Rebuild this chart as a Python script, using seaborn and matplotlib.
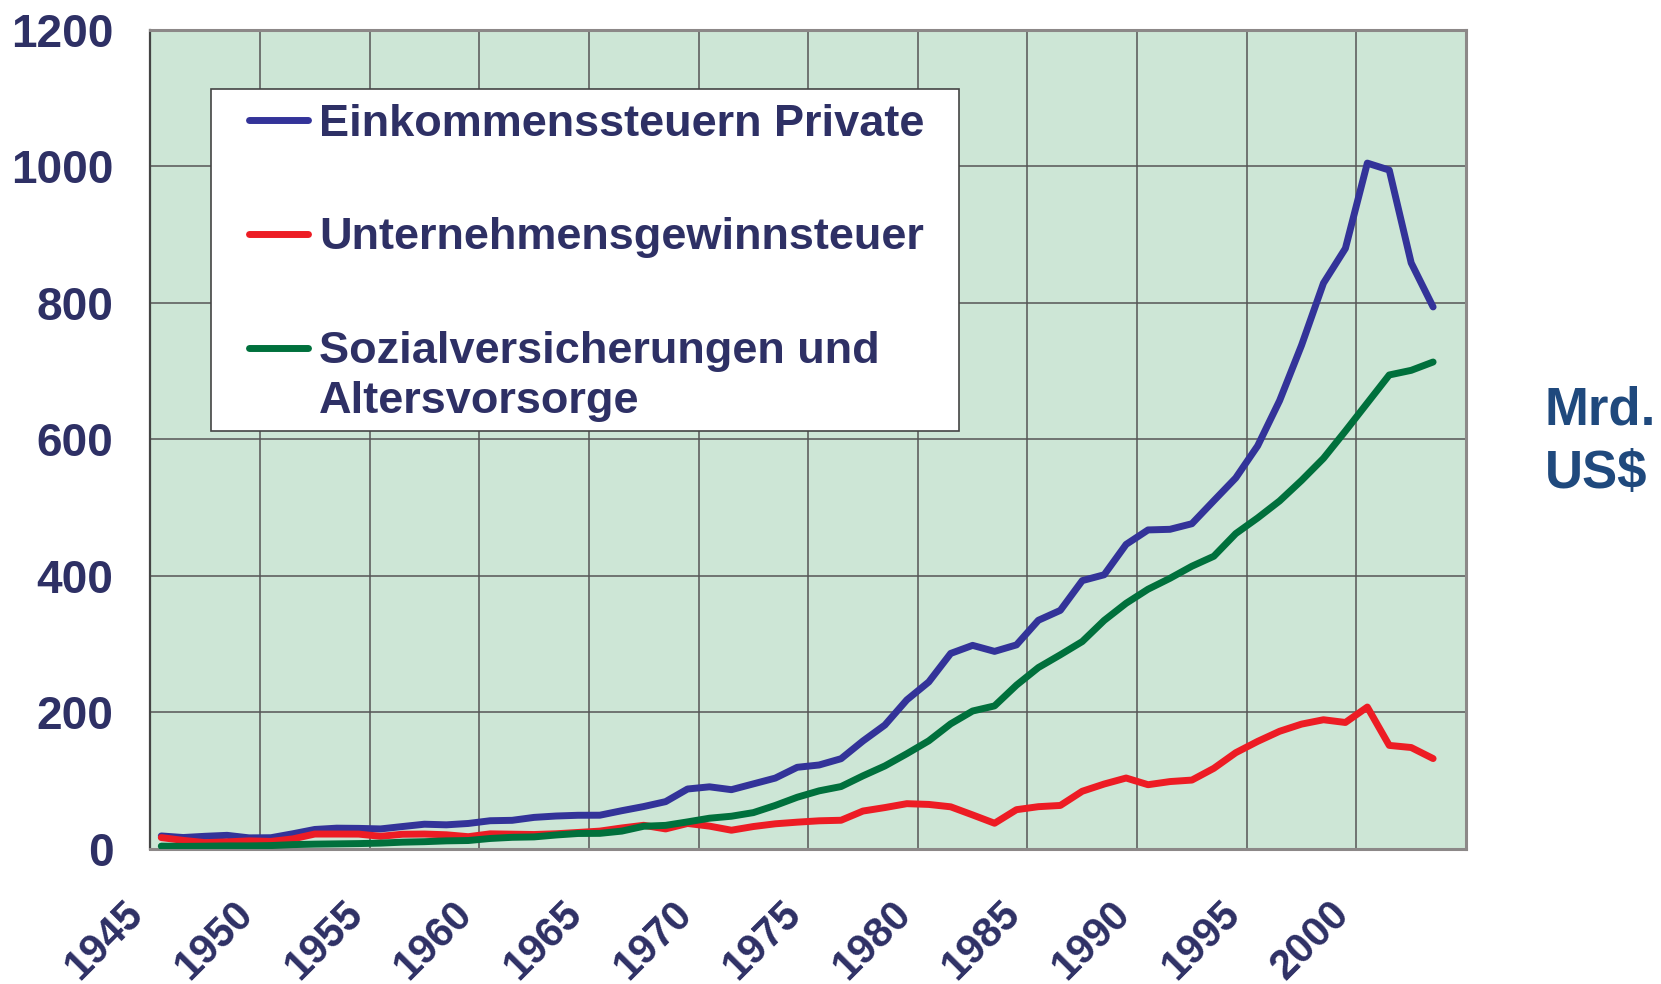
import matplotlib
matplotlib.use("Agg")
import matplotlib.pyplot as plt
import matplotlib.transforms as mtransforms
from matplotlib.legend_handler import HandlerLine2D
from matplotlib.patches import Rectangle
import numpy as np
import pandas as pd
import seaborn as sns

# US federal receipts, Mrd. US$
YEARS = list(range(1945, 2004))

EINKOMMEN = [18.4, 16.1, 17.9, 19.3, 15.6, 15.8, 21.6, 27.9, 29.8, 29.5,
             28.7, 32.2, 35.6, 34.7, 36.7, 40.7, 41.3, 45.6, 47.6, 48.7,
             48.8, 55.4, 61.5, 68.7, 87.2, 90.4, 86.2, 94.7, 103.2, 119.0,
             122.4, 131.6, 157.6, 181.0, 217.8, 244.1, 285.9, 297.7, 288.9, 298.4,
             334.5, 349.0, 392.6, 401.2, 445.7, 466.9, 467.8, 476.0, 509.7, 543.1,
             590.2, 656.4, 737.5, 828.6, 879.5, 1004.5, 994.3, 858.3, 793.7]

UNTERNEHMEN = [16.0, 11.9, 8.6, 9.7, 11.2, 10.4, 14.1, 21.2, 21.2, 21.1,
               17.9, 20.9, 21.2, 20.1, 17.3, 21.5, 21.0, 20.5, 21.6, 23.5,
               25.5, 30.1, 34.0, 28.7, 36.7, 32.8, 26.8, 32.2, 36.2, 38.6,
               40.6, 41.4, 54.9, 60.0, 65.7, 64.6, 61.1, 49.2, 37.0, 56.9,
               61.3, 63.1, 83.9, 94.5, 103.3, 93.5, 98.1, 100.3, 117.5, 140.4,
               157.0, 171.8, 182.3, 188.7, 184.7, 207.3, 151.1, 148.0, 131.8]

SOZIAL = [3.5, 3.1, 3.4, 3.8, 3.8, 4.3, 5.7, 6.4, 6.8, 7.2,
          7.9, 9.3, 10.0, 11.2, 11.7, 14.7, 16.4, 17.0, 19.8, 22.0,
          22.2, 25.5, 32.6, 33.9, 39.0, 44.4, 47.3, 52.6, 63.1, 75.1,
          84.5, 90.8, 106.5, 121.0, 138.9, 157.8, 182.7, 201.5, 209.0, 239.4,
          265.2, 283.9, 303.3, 334.3, 359.4, 380.0, 396.0, 413.7, 428.3, 461.5,
          484.5, 509.4, 539.4, 571.8, 611.8, 652.9, 694.0, 700.8, 713.0]

SERIES_NAMES = [
    "Einkommenssteuern Private",
    "Unternehmensgewinnsteuer",
    "Sozialversicherungen und\nAltersvorsorge",
]
SERIES_COLORS = ["#333399", "#ED1C24", "#00703C"]

X_TICKS = list(range(1945, 2006, 5))
X_TICK_LABELS = [str(y) for y in range(1945, 2001, 5)] + [""]
Y_TICKS = list(range(0, 1201, 200))

TEXT_COLOR = "#2E3065"
UNIT_COLOR = "#1F497D"
BG_COLOR = "#CDE6D6"
GRID_COLOR = "#555555"
LINE_WIDTH = 5.0


class FirstLineHandler(HandlerLine2D):
    """Line handle lifted to the first row of a two-line label."""

    def __init__(self, dy, **kwargs):
        super().__init__(**kwargs)
        self.dy = dy

    def create_artists(self, legend, orig_handle, xdescent, ydescent,
                       width, height, fontsize, trans):
        artists = super().create_artists(legend, orig_handle, xdescent, ydescent,
                                         width, height, fontsize, trans)
        for art in artists:
            art.set_ydata(np.asarray(art.get_ydata()) + self.dy)
        return artists


def build_frame() -> pd.DataFrame:
    frames = []
    for name, values in zip(SERIES_NAMES, [EINKOMMEN, UNTERNEHMEN, SOZIAL]):
        frames.append(pd.DataFrame({
            # Excel-style category axis: each year sits in the middle of its slot
            "year": np.array(YEARS) + 0.5,
            "value": values,
            "series": name,
        }))
    return pd.concat(frames, ignore_index=True)


def main() -> None:
    sns.set_style("white")
    plt.rcParams["font.family"] = ["Liberation Sans", "DejaVu Sans"]
    plt.rcParams["font.weight"] = "bold"

    df = build_frame()

    fig = plt.figure(figsize=(16.61, 9.84), dpi=100, facecolor="white")
    ax = fig.add_axes([0.0905, 0.1377, 0.7921, 0.8321])
    ax.set_facecolor(BG_COLOR)

    sns.lineplot(
        data=df, x="year", y="value", hue="series",
        hue_order=SERIES_NAMES, palette=SERIES_COLORS,
        linewidth=LINE_WIDTH, ax=ax, legend=False,
        solid_capstyle="round", zorder=3,
    )

    ax.set_xlim(1945, 2005)
    ax.set_ylim(0, 1200)
    ax.set_xticks(X_TICKS)
    ax.set_xticklabels(X_TICK_LABELS, rotation=45, rotation_mode="anchor",
                       ha="right", va="center", fontweight="bold")
    ax.set_yticks(Y_TICKS)
    ax.set_xlabel("")
    ax.set_ylabel("")
    ax.grid(True, color=GRID_COLOR, linewidth=1.1)
    ax.set_axisbelow(True)

    for side in ["top", "right", "bottom"]:
        ax.spines[side].set_color("#8C8888")
        ax.spines[side].set_linewidth(2.2)
    ax.spines["left"].set_color("#444444")
    ax.spines["left"].set_linewidth(1.6)

    ax.tick_params(axis="y", direction="out", length=10, width=1.3, color="#444444",
                   pad=16.5, labelsize=33, labelcolor=TEXT_COLOR)
    ax.tick_params(axis="x", direction="out", length=10, width=1.3, color="#555555",
                   pad=32.5, labelsize=30, labelcolor=TEXT_COLOR)
    for lbl in ax.get_yticklabels():
        lbl.set_fontweight("bold")

    # nudge the slanted year labels left so they end just before their tick
    shift = mtransforms.ScaledTranslation(-0.13, 0, fig.dpi_scale_trans)
    for tick in ax.xaxis.get_major_ticks():
        tick.label1.set_transform(tick.label1.get_transform() + shift)

    # legend box (white panel with thin border)
    ax.add_patch(Rectangle((0.046, 0.51), 0.5686, 0.4176, transform=ax.transAxes,
                           facecolor="white", edgecolor="#444444", linewidth=1.2,
                           zorder=4))

    handles = [plt.Line2D([], [], color=c, linewidth=LINE_WIDTH, solid_capstyle="round")
               for c in SERIES_COLORS]
    leg = ax.legend(
        handles, SERIES_NAMES, loc="upper left", bbox_to_anchor=(0.0749, 0.909),
        frameon=False, borderpad=0, borderaxespad=0, handlelength=1.3,
        handletextpad=0.25, labelspacing=1.6,
        prop={"size": 32.5, "weight": "bold"},
        handler_map={handles[2]: FirstLineHandler(21)},
    )
    leg.set_zorder(5)
    for txt in leg.get_texts():
        txt.set_color(TEXT_COLOR)
        txt.set_linespacing(1.3)

    fig.text(0.930, 0.608, "Mrd.\nUS$", ha="left", va="top",
             fontsize=38, fontweight="bold", color=UNIT_COLOR, linespacing=1.34)

    fig.savefig("out.png", dpi=100)
    plt.close(fig)


if __name__ == "__main__":
    main()
